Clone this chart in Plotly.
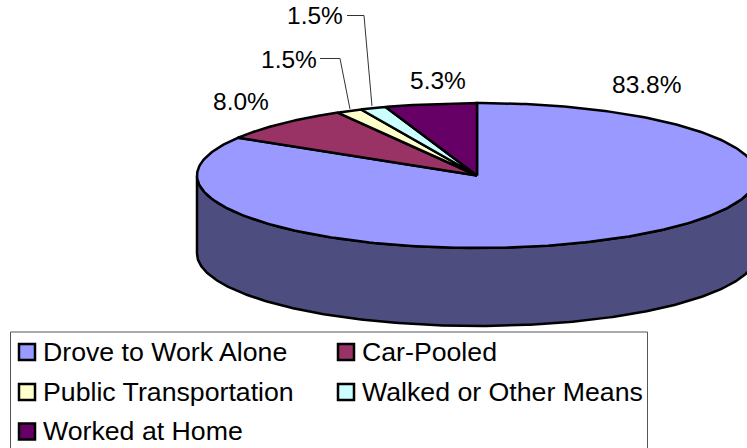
import numpy as np
import plotly.graph_objects as go

categories = ["Drove to Work Alone", "Car-Pooled", "Public Transportation", "Walked or Other Means", "Worked at Home"]
values = [83.8, 8.0, 1.5, 1.5, 5.3]
colors = ["#9999FF", "#993366", "#FFFFCC", "#CCFFFF", "#660066"]
side_color = "#4D4D80"

W, H = 747, 448
CX, CY, RX, RY, DEPTH = 477, 175.5, 280, 72.5, 78
TEXT = "Liberation Sans, Arial, sans-serif"


def px(x):
    return x / W


def py(y):
    return 1 - y / H


fig = go.Figure()

# Pie side wall: the front half of the rim, pushed down by the depth
t = np.linspace(np.pi / 2, 3 * np.pi / 2, 240)
d = DEPTH / RY
sx = np.concatenate([np.sin(t), np.sin(t[::-1])])
sy = np.concatenate([np.cos(t), np.cos(t[::-1]) - d])
fig.add_trace(go.Scatter(x=sx, y=sy, mode="lines", fill="toself", fillcolor=side_color,
                         line=dict(color="black", width=2.5), hoverinfo="skip", showlegend=False))

# Pie top: slices run clockwise from 12 o'clock
total = sum(values)
start = 0.0
for name, val, col in zip(categories, values, colors):
    a = np.linspace(start, start + val / total, 300) * 2 * np.pi
    wx = np.concatenate([[0], np.sin(a), [0]])
    wy = np.concatenate([[0], np.cos(a), [0]])
    fig.add_trace(go.Scatter(x=wx, y=wy, mode="lines", fill="toself", fillcolor=col, name=name,
                             line=dict(color="black", width=2.5), hoverinfo="name", showlegend=False))
    start += val / total

annotations = []
# Data labels
label_pos = [(646, 84), (241, 101), (289, 59), (315, 16), (438, 80)]
for val, (x, y) in zip(values, label_pos):
    annotations.append(dict(x=px(x), y=py(y), xref="paper", yref="paper", text=f"{val:.1f}%",
                            showarrow=False, font=dict(family=TEXT, size=24.5, color="black"),
                            xanchor="center", yanchor="middle"))

shapes = []
for pts in ([(320, 58.5), (340, 58.5), (350, 109)], [(347, 15.5), (364, 15.5), (372, 106)]):
    path = "M " + " L ".join(f"{px(a):.5f} {py(b):.5f}" for a, b in pts)
    shapes.append(dict(type="path", path=path, xref="paper", yref="paper",
                       line=dict(color="#333333", width=1)))
# Legend frame
shapes.append(dict(type="rect", x0=px(10.5), x1=px(647.5), y0=py(332), y1=py(460), xref="paper", yref="paper",
                   line=dict(color="#555555", width=1), fillcolor="white", layer="above"))

# Legend entries
legend_pos = [(27, 352), (346, 352), (27, 392), (346, 392), (27, 431.5)]
for name, col, (x, y) in zip(categories, colors, legend_pos):
    shapes.append(dict(type="rect", x0=px(x - 8), x1=px(x + 8), y0=py(y - 8), y1=py(y + 8), xref="paper", yref="paper",
                       line=dict(color="black", width=2.5), fillcolor=col, layer="above"))
    annotations.append(dict(x=px(x + 14), y=py(y - 0.5), xref="paper", yref="paper", text=name, showarrow=False,
                            font=dict(family=TEXT, size=26.7, color="black"), xanchor="left", yanchor="middle"))

fig.update_layout(
    width=W, height=H, margin=dict(l=0, r=0, t=0, b=0),
    paper_bgcolor="white", plot_bgcolor="white", showlegend=False,
    xaxis=dict(range=[(0 - CX) / RX, (W - CX) / RX], visible=False, fixedrange=True),
    yaxis=dict(range=[(CY - H) / RY, CY / RY], visible=False, fixedrange=True),
    annotations=annotations, shapes=shapes,
)
fig.write_html("out.html", config={"displayModeBar": False},
               post_script="document.body.style.margin='0';document.documentElement.style.overflow='hidden';")
